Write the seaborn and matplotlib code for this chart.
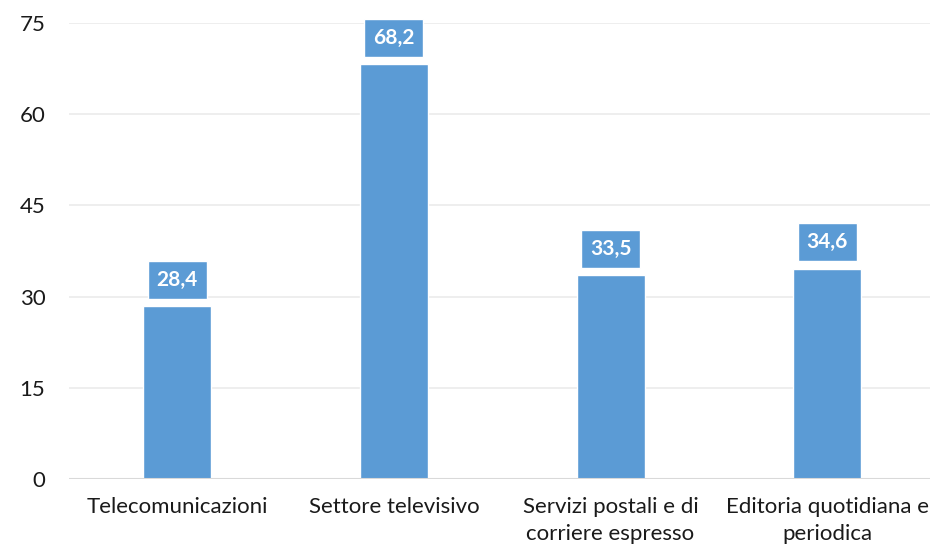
import matplotlib
matplotlib.use("Agg")
import matplotlib.pyplot as plt
import seaborn as sns
import pandas as pd

categories = [
    "Telecomunicazioni",
    "Settore televisivo",
    "Servizi postali e di\ncorriere espresso",
    "Editoria quotidiana e\nperiodica",
]
values = [28.4, 68.2, 33.5, 34.6]
yticks = [0, 15, 30, 45, 60, 75]

df = pd.DataFrame({"settore": categories, "valore": values})

sns.set_style("white")
plt.rcParams["font.family"] = ["Lato", "DejaVu Sans"]

blue = "#5B9BD5"

fig = plt.figure(figsize=(9.3, 5.5), dpi=100)
ax = fig.add_axes([69 / 930, 71 / 550, 1 - 69 / 930, 456 / 550])

sns.barplot(data=df, x="settore", y="valore", color=blue, width=0.314,
            saturation=1, ax=ax, zorder=3)

ax.set_xlim(-0.5, 3.475)
ax.set_ylim(0, 75)
ax.set_yticks(yticks)
ax.set_yticklabels([str(t) for t in yticks], fontsize=16, color="#1a1a1a")
ax.tick_params(axis="x", labelsize=16, colors="#1a1a1a", length=0, pad=13)
ax.tick_params(axis="y", length=0, pad=17)
for lbl in ax.get_xticklabels():
    lbl.set_linespacing(1.45)
ax.set_xlabel("")
ax.set_ylabel("")

for t in yticks[1:]:
    ax.axhline(t, color="#EBEBEB", lw=1.2, zorder=0)
ax.axhline(0, color="#D9D9D9", lw=1.5, zorder=4)

for s in ax.spines.values():
    s.set_visible(False)

for i, v in enumerate(values):
    ax.annotate(f"{v:.1f}".replace(".", ","), xy=(i, v), xytext=(0, 19),
                textcoords="offset points", ha="center", va="center",
                fontsize=15, fontweight="bold", color="white", zorder=5,
                bbox=dict(boxstyle="square,pad=0.42", fc=blue, ec="white", lw=1))

fig.savefig("out.png", dpi=100)
